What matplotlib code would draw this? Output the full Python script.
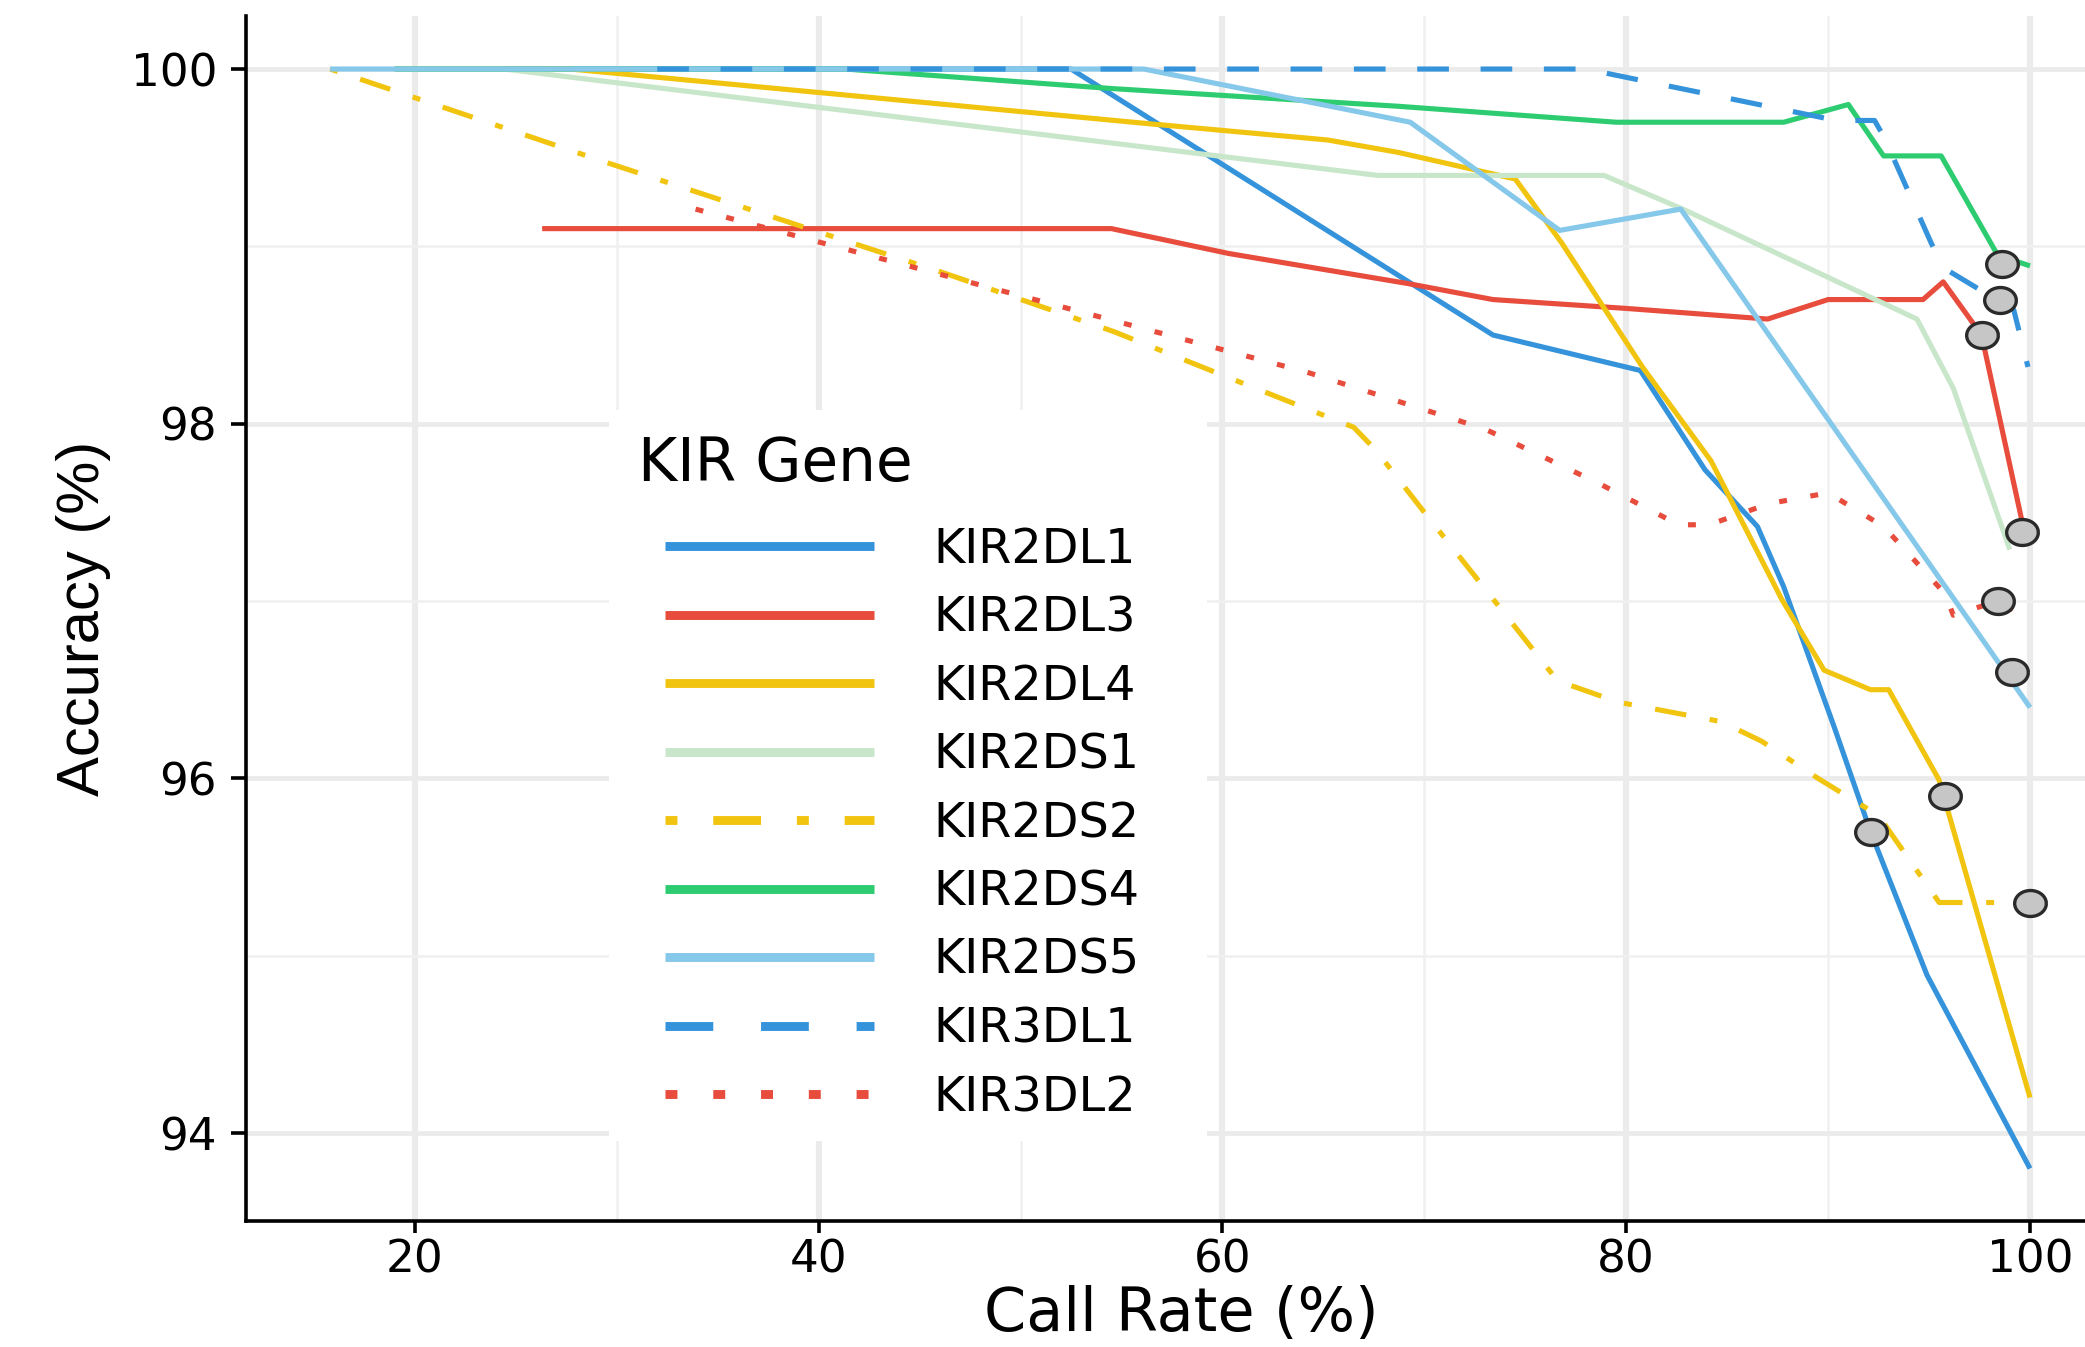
import matplotlib
matplotlib.use('Agg')
import matplotlib.pyplot as plt
from matplotlib.lines import Line2D
from matplotlib.patches import Rectangle
from matplotlib import font_manager
import numpy as np

plt.rcParams['lines.scale_dashes'] = False
plt.rcParams['font.family'] = ['DejaVu Sans']

# ---------------- data ----------------
genes = ["KIR2DL1", "KIR2DL3", "KIR2DL4", "KIR2DS1", "KIR2DS2",
         "KIR2DS4", "KIR2DS5", "KIR3DL1", "KIR3DL2"]

kir2dl1_x = [19.0, 52.5, 73.4, 80.7, 83.9, 86.5, 87.8, 90.3, 92.1, 94.9, 100.0]
kir2dl1_y = [100.0, 100.0, 98.50, 98.30, 97.74, 97.42, 97.08, 96.29, 95.70, 94.89, 93.80]

kir2dl3_x = [26.3, 54.5, 60.3, 65.0, 69.2, 73.4, 80.0, 87.0, 90.0, 94.7, 95.7, 97.6, 99.7]
kir2dl3_y = [99.10, 99.10, 98.96, 98.87, 98.79, 98.70, 98.65, 98.59, 98.70, 98.70, 98.80, 98.50, 97.40]

kir2dl4_x = [19.0, 27.7, 56.5, 65.2, 68.7, 74.5, 76.8, 80.8, 84.2, 87.7, 89.8, 92.1, 93.0, 95.5, 100.0]
kir2dl4_y = [100.0, 100.0, 99.69, 99.60, 99.53, 99.38, 99.02, 98.32, 97.79, 97.01, 96.61, 96.50, 96.50, 95.99, 94.20]

kir2ds1_x = [19.0, 24.4, 67.7, 78.9, 82.8, 94.4, 96.2, 99.0]
kir2ds1_y = [100.0, 100.0, 99.40, 99.40, 99.21, 98.59, 98.20, 97.29]

kir2ds2_x = [15.8, 29.3, 46.2, 54.6, 60.3, 66.5, 67.6, 70.0, 73.9, 76.6, 79.6, 84.7, 86.7, 89.5, 92.5, 95.5, 100.0]
kir2ds2_y = [100.0, 99.48, 98.85, 98.52, 98.26, 97.98, 97.85, 97.50, 96.94, 96.55, 96.43, 96.32, 96.21, 96.00, 95.79, 95.30, 95.30]

kir2ds4_x = [19.0, 41.3, 54.5, 68.7, 79.5, 87.8, 91.0, 92.75, 95.6, 98.4, 100.0]
kir2ds4_y = [100.0, 100.0, 99.89, 99.79, 99.70, 99.70, 99.80, 99.51, 99.51, 98.95, 98.89]

kir2ds5_x = [15.8, 56.1, 69.3, 76.7, 82.7, 100.0]
kir2ds5_y = [100.0, 100.0, 99.70, 99.09, 99.21, 96.40]

kir3dl1_x = [32.0, 78.0, 90.4, 92.3, 92.8, 95.1, 95.7, 99.2, 99.9]
kir3dl1_y = [100.0, 100.0, 99.71, 99.71, 99.61, 99.02, 98.88, 98.64, 98.32]

kir3dl2_x = [33.9, 50.7, 64.2, 73.0, 78.7, 82.6, 84.1, 87.1, 90.0, 92.75, 95.8, 96.2, 98.4, 99.8]
kir3dl2_y = [99.21, 98.70, 98.29, 97.97, 97.66, 97.43, 97.43, 97.55, 97.61, 97.42, 97.04, 96.92, 97.00, 96.91]

marker_x = [98.6, 98.5, 97.6, 99.6, 98.4, 99.1, 95.8, 92.1, 100.0]
marker_y = [98.90, 98.70, 98.50, 97.39, 97.00, 96.60, 95.90, 95.70, 95.30]

x_ticks = [20, 40, 60, 80, 100]
y_ticks = [94, 96, 98, 100]

series_x = [kir2dl1_x, kir2dl3_x, kir2dl4_x, kir2ds1_x, kir2ds2_x,
            kir2ds4_x, kir2ds5_x, kir3dl1_x, kir3dl2_x]
series_y = [kir2dl1_y, kir2dl3_y, kir2dl4_y, kir2ds1_y, kir2ds2_y,
            kir2ds4_y, kir2ds5_y, kir3dl1_y, kir3dl2_y]

# ---------------- styles ----------------
colors = ["#3493DA", "#E74C3C", "#F1C40F", "#C8E6C9", "#F1C40F",
          "#2ECC71", "#85C8EA", "#3493DA", "#E74C3C"]
kinds = ["solid", "solid", "solid", "solid", "dotdash",
         "solid", "solid", "dashed", "dotted"]

def dash(kind, u):
    if kind == "solid":
        return "-"
    if kind == "dashed":
        return (0, (4 * u, 4 * u))
    if kind == "dotted":
        return (0, (1 * u, 3 * u))
    return (0, (1 * u, 3 * u, 4 * u, 3 * u))

W, H, DPI = 2085, 1347, 200
fig = plt.figure(figsize=(W / DPI, H / DPI), dpi=DPI)
fig.patch.set_facecolor("white")
ax = fig.add_axes([246 / W, (H - 1221) / H, (2116 - 246) / W, (1221 - 16) / H])

for xs, ys, c, k in zip(series_x, series_y, colors, kinds):
    ax.plot(xs, ys, color=c, lw=1.85, linestyle=dash(k, 2.85),
            solid_capstyle="butt", dash_capstyle="butt", zorder=2)

t = np.linspace(0, 2 * np.pi, 64)
ell = list(zip(1.22 * np.cos(t), np.sin(t)))
ax.plot(marker_x, marker_y, linestyle="none", marker=ell, ms=11.4,
        mfc="#C6C6C6", mec="#2A2A2A", mew=1.2, zorder=4, clip_on=False)

ax.set_xlim(11.63, 104.26)
ax.set_ylim(93.504, 100.299)
ax.set_xticks(x_ticks)
ax.set_xticklabels([str(v) for v in x_ticks])
ax.set_yticks(y_ticks)
ax.set_yticklabels([str(v) for v in y_ticks])
ax.set_xticks([30, 50, 70, 90], minor=True)
ax.set_yticks([95, 97, 99], minor=True)

ax.grid(which="major", axis="x", color="#EBEBEB", lw=2.2)
ax.grid(which="major", axis="y", color="#EBEBEB", lw=1.7)
ax.grid(which="minor", axis="both", color="#F0F0F0", lw=0.9)
ax.set_axisbelow(True)

for s in ["top", "right"]:
    ax.spines[s].set_visible(False)
for s in ["left", "bottom"]:
    ax.spines[s].set_linewidth(1.3)
    ax.spines[s].set_color("black")

ax.tick_params(which="minor", length=0)
ax.tick_params(axis="x", which="major", length=4.3, width=1.3, pad=2,
               labelsize=16.3, colors="black")
ax.tick_params(axis="y", which="major", length=5.4, width=1.3, pad=5,
               labelsize=16.3, colors="black")

ax.set_xlabel("Call Rate (%)", fontsize=21.8, va="top")
ax.xaxis.set_label_coords(0.5, -(1285 - 1221) / 1205)

names = {f.name for f in font_manager.fontManager.ttflist}
if "Liberation Sans Narrow" in names:
    ax.set_ylabel("Accuracy (%)", family=["Liberation Sans Narrow", "DejaVu Sans"], fontsize=25.5)
else:
    ax.set_ylabel("Accuracy (%)", family=["Liberation Sans", "DejaVu Sans"], fontsize=21.5)
ax.yaxis.set_label_coords((111 - 246) / 1870, 0.5)

# legend background
fig.add_artist(Rectangle((609 / W, 1 - 1141 / H), (1207 - 609) / W, (1141 - 410) / H,
                         transform=fig.transFigure, facecolor="white",
                         edgecolor="none", zorder=5))

handles = [Line2D([], [], color=c, lw=3.2, linestyle=dash(k, 4.3),
                  solid_capstyle="butt", dash_capstyle="butt")
           for c, k in zip(colors, kinds)]
leg = fig.legend(handles, genes, loc="upper left",
                 bbox_to_anchor=(665 / W, 1 - 526 / H),
                 frameon=False, fontsize=17.2, handlelength=4.37,
                 handletextpad=1.25, labelspacing=0.45,
                 borderpad=0, borderaxespad=0)
leg.set_zorder(6)

fig.text(638 / W, 1 - 481 / H, "KIR Gene", fontsize=21.5, ha="left",
         va="baseline", zorder=7)

fig.savefig("out.png", dpi=DPI)
